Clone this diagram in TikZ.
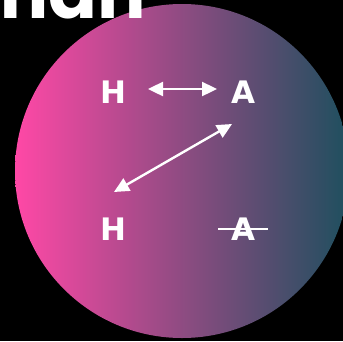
\documentclass[tikz,border=0pt]{standalone}
\usepackage{fontspec}
\setmainfont{DejaVu Sans}
\newfontfamily\titlefont{Poppins}[UprightFont=* Bold]
\usetikzlibrary{arrows.meta}
\definecolor{pinkL}{HTML}{FF48A6}
\definecolor{tealR}{HTML}{1E4F5E}
\begin{document}
\begin{tikzpicture}[x=1pt,y=-1pt,
  letter/.style={text=white,inner sep=0pt,font=\bfseries\fontsize{31}{31}\selectfont},
  link/.style={white,line width=2.4pt,{Triangle[length=15pt,width=14pt]}-{Triangle[length=15pt,width=14pt]}}]
\fill[black] (0,0) rectangle (343,341);
\useasboundingbox (0,0) rectangle (343,341);
\begin{scope}
\clip (0,0) rectangle (343,341);
\shade[left color=pinkL,right color=tealR] (182,171) circle[radius=167];
\node[anchor=base east,text=white,inner sep=0pt,font=\titlefont\fontsize{72}{72}\selectfont] (title) at (146,18) {man};
\end{scope}
\node[letter] (H1) at (113,92) {H};
\node[letter] (A1) at (243,92) {A};
\node[letter] (H2) at (113,229) {H};
\node[letter] (A2) at (243,229) {A};
\draw[link] ([xshift=35pt,yshift=3pt]H1.center) -- ([xshift=-26pt,yshift=3pt]A1.center);
\draw[link] ([shift={(-11,32)}]A1.center) -- ([shift={(1,-37)}]H2.center);
\draw[white,line width=2.4pt] ([xshift=-25pt]A2.center) -- ([xshift=25pt]A2.center);
\end{tikzpicture}
\end{document}
